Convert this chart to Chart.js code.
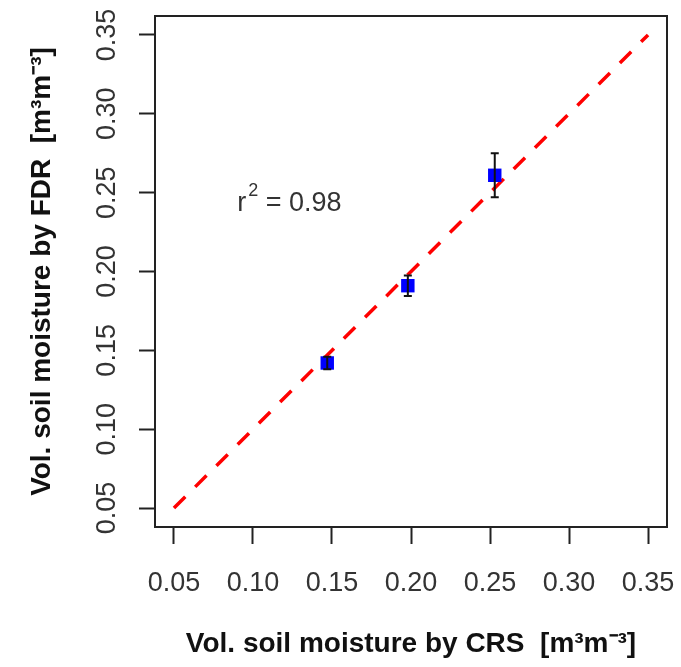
<!DOCTYPE html>
<html>
<head>
<meta charset="utf-8">
<style>
  html, body { margin: 0; padding: 0; background: #fff; }
  canvas { display: block; }
</style>
</head>
<body>
<canvas id="chart" width="681" height="667"></canvas>

<script src="https://cdn.jsdelivr.net/npm/chart.js"></script>

<script>
  // values
  const crs = [0.147, 0.198, 0.253];
  const fdr = [0.142, 0.191, 0.261];
  const fdrErr = [0.004, 0.0065, 0.014];
  const lineX = [0.05, 0.35];
  const lineY = [0.05, 0.35];
  const tickValues = [0.05, 0.10, 0.15, 0.20, 0.25, 0.30, 0.35];
  const axisMin = 0.038;
  const axisMax = 0.362;
  const r2Pos = [0.09, 0.243];
  const r2Value = '0.98';

  const FONT = '"Liberation Sans", Arial, sans-serif';
  const ink = '#222';

  const points = crs.map((x, i) => ({ x, y: fdr[i] }));
  const line = lineX.map((x, i) => ({ x, y: lineY[i] }));

  const extras = {
    id: 'extras',
    afterDatasetsDraw(chart) {
      const { ctx, chartArea: a, scales: { x, y } } = chart;
      ctx.save();
      // error bars
      ctx.strokeStyle = '#111';
      ctx.lineWidth = 2;
      crs.forEach((v, i) => {
        const px = x.getPixelForValue(v);
        const lo = y.getPixelForValue(fdr[i] - fdrErr[i]);
        const hi = y.getPixelForValue(fdr[i] + fdrErr[i]);
        ctx.beginPath();
        ctx.moveTo(px, lo); ctx.lineTo(px, hi);
        ctx.moveTo(px - 4, lo); ctx.lineTo(px + 4, lo);
        ctx.moveTo(px - 4, hi); ctx.lineTo(px + 4, hi);
        ctx.stroke();
      });
      // box round the plot
      ctx.strokeStyle = ink;
      ctx.lineWidth = 2;
      ctx.strokeRect(a.left, a.top, a.right - a.left, a.bottom - a.top);
      // r^2 note
      let tx = x.getPixelForValue(r2Pos[0]);
      const ty = y.getPixelForValue(r2Pos[1]);
      ctx.fillStyle = '#333';
      ctx.textBaseline = 'middle';
      ctx.textAlign = 'left';
      ctx.font = '27px ' + FONT;
      ctx.fillText('r', tx, ty);
      tx += ctx.measureText('r').width + 2;
      ctx.font = '18px ' + FONT;
      ctx.fillText('2', tx, ty - 13);
      tx += ctx.measureText('2').width;
      ctx.font = '27px ' + FONT;
      ctx.fillText(' = ' + r2Value, tx, ty);
      ctx.restore();
    }
  };

  const setTicks = s => { s.ticks = tickValues.map(v => ({ value: v })); };

  new Chart(document.getElementById('chart'), {
    type: 'scatter',
    data: {
      datasets: [
        {
          data: points,
          pointStyle: 'rect',
          pointRadius: 9.5,
          backgroundColor: '#0000ff',
          borderWidth: 0,
          order: 1
        },
        {
          data: line,
          showLine: true,
          pointRadius: 0,
          borderColor: '#ff0000',
          borderWidth: 3.5,
          borderDash: [16, 14],
          order: 2
        }
      ]
    },
    options: {
      responsive: false,
      animation: false,
      layout: { padding: { top: 16, right: 14, left: 0, bottom: 0 } },
      plugins: { legend: { display: false }, tooltip: { enabled: false } },
      scales: {
        x: {
          type: 'linear',
          min: axisMin,
          max: axisMax,
          afterBuildTicks: setTicks,
          afterFit: s => { s.height = 140; s.paddingLeft = 0; s.paddingRight = 0; },
          border: { display: false },
          grid: { drawOnChartArea: false, drawTicks: true, tickLength: 17, tickWidth: 2, tickColor: ink },
          ticks: {
            padding: 23,
            color: '#333',
            font: { family: FONT, size: 27 },
            maxRotation: 0,
            callback: v => v.toFixed(2)
          },
          title: {
            display: true,
            text: 'Vol. soil moisture by CRS  [m³m⁻³]',
            color: '#111',
            font: { family: FONT, size: 28, weight: 'bold' },
            padding: { top: 0, bottom: 6 }
          }
        },
        y: {
          type: 'linear',
          min: axisMin,
          max: axisMax,
          afterBuildTicks: setTicks,
          afterFit: s => { s.width = 155; s.paddingTop = 0; s.paddingBottom = 0; },
          border: { display: false },
          grid: { drawOnChartArea: false, drawTicks: true, tickLength: 16, tickWidth: 2, tickColor: ink },
          ticks: {
            padding: 5,
            crossAlign: 'center',
            minRotation: 90,
            maxRotation: 90,
            color: '#333',
            font: { family: FONT, size: 27 },
            callback: v => v.toFixed(2)
          },
          title: {
            display: true,
            text: 'Vol. soil moisture by FDR  [m³m⁻³]',
            color: '#111',
            font: { family: FONT, size: 28, weight: 'bold' },
            padding: { top: 25, bottom: 0 }
          }
        }
      }
    },
    plugins: [extras]
  });
</script>
</body>
</html>
